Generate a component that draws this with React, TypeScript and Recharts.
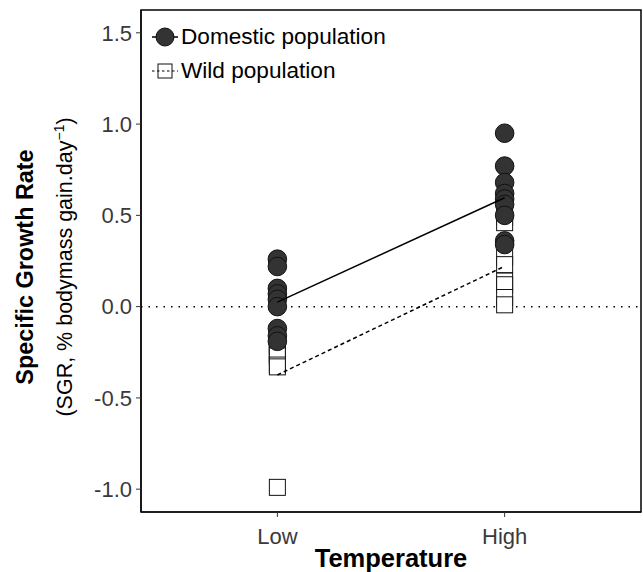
import React from "react";
import {
    ScatterChart,
    Scatter,
    XAxis,
    YAxis,
    ReferenceLine,
    ReferenceArea,
} from "recharts";

// temperature groups on the x axis
const temperatureTicks = [1, 2];
const temperatureLabels = ["Low", "High"];

// SGR per individual
const domesticLow = [0.26, 0.22, 0.10, 0.07, 0.04, 0.0, -0.12, -0.16, -0.19];
const domesticHigh = [0.95, 0.77, 0.68, 0.62, 0.59, 0.56, 0.50, 0.36, 0.34];
const wildLow = [-0.21, -0.24, -0.26, -0.27, -0.32, -0.33, -0.99];
const wildHigh = [0.49, 0.46, 0.27, 0.23, 0.14, 0.12, 0.05, 0.01];

const yTicks = [-1.0, -0.5, 0.0, 0.5, 1.0, 1.5];

const FONT = "'Liberation Sans', Arial, Helvetica, sans-serif";
const TICK_COLOR = "#3a3a3a";

const mean = (arr: number[]) => arr.reduce((a, b) => a + b, 0) / arr.length;

const toPoints = (low: number[], high: number[]) => [
    ...low.map((y) => ({ x: temperatureTicks[0], y })),
    ...high.map((y) => ({ x: temperatureTicks[1], y })),
];

const domesticPoints = toPoints(domesticLow, domesticHigh);
const wildPoints = toPoints(wildLow, wildHigh);
const domesticMeans = [
    { x: temperatureTicks[0], y: mean(domesticLow) },
    { x: temperatureTicks[1], y: mean(domesticHigh) },
];
const wildMeans = [
    { x: temperatureTicks[0], y: mean(wildLow) },
    { x: temperatureTicks[1], y: mean(wildHigh) },
];

const CircleDot = (props: any) => (
    <circle cx={props.cx} cy={props.cy} r={9.3} fill="#333333" stroke="#111" strokeWidth={1} />
);

const SquareDot = (props: any) => (
    <rect x={props.cx - 8} y={props.cy - 8} width={16} height={16} fill="#ffffff" stroke="#111" strokeWidth={1} />
);

const NoDot = () => <g />;

const YTitle = (props: any) => {
    const { viewBox } = props;
    const cy = viewBox.y + viewBox.height / 2 + 6;
    const x1 = viewBox.x + 33;
    const x2 = viewBox.x + 72;
    return (
        <g fontFamily={FONT}>
            <text x={x1} y={cy} transform={`rotate(-90 ${x1} ${cy})`} textAnchor="middle" fontSize={23.4} fontWeight="bold" fill="#000">
                Specific Growth Rate
            </text>
            <text x={x2} y={cy} transform={`rotate(-90 ${x2} ${cy})`} textAnchor="middle" fontSize={21.5} fill="#000">
                (SGR, % bodymass gain.day<tspan dy={-8} fontSize={14}>−1</tspan><tspan dy={8}>)</tspan>
            </text>
        </g>
    );
};

const XTitle = (props: any) => {
    const { viewBox } = props;
    return (
        <text x={viewBox.x + viewBox.width / 2} y={viewBox.y + 55} textAnchor="middle" fontFamily={FONT} fontSize={25.5} fontWeight="bold" fill="#000">
            Temperature
        </text>
    );
};

const LegendBox = () => (
    <div style={{ position: "absolute", left: 152, top: 20, fontFamily: FONT, fontSize: 22.6, color: "#000", lineHeight: "34px" }}>
        <div style={{ display: "flex", alignItems: "center", height: 34 }}>
            <svg width={26} height={24}>
                <line x1={0} y1={12} x2={26} y2={12} stroke="#000" strokeWidth={1.5} />
                <circle cx={13} cy={12} r={9} fill="#333333" stroke="#111" />
            </svg>
            <span style={{ marginLeft: 3 }}>Domestic population</span>
        </div>
        <div style={{ display: "flex", alignItems: "center", height: 34 }}>
            <svg width={26} height={24}>
                <line x1={0} y1={12} x2={26} y2={12} stroke="#000" strokeWidth={1.2} strokeDasharray="2.5 2.5" />
                <rect x={6} y={5} width={14} height={14} fill="none" stroke="#111" />
            </svg>
            <span style={{ marginLeft: 3 }}>Wild population</span>
        </div>
    </div>
);

export default function App() {
    return (
        <div style={{ position: "relative", width: 643, height: 572 }}>
            <style>{`body{margin:0;background:#fff}`}</style>
            <ScatterChart width={643} height={572} margin={{ top: 10, right: 2, bottom: 0, left: 0 }}>
                <XAxis
                    type="number"
                    dataKey="x"
                    domain={[0.4, 2.6]}
                    ticks={temperatureTicks}
                    tickFormatter={(v) => temperatureLabels[temperatureTicks.indexOf(v)]}
                    height={60}
                    tickSize={5}
                    tickMargin={11}
                    tick={{ fill: TICK_COLOR, fontSize: 22, fontFamily: FONT }}
                    axisLine={{ stroke: "#000", strokeWidth: 1.2 }}
                    tickLine={{ stroke: "#333" }}
                    label={{ content: <XTitle /> }}
                    allowDataOverflow
                />
                <YAxis
                    type="number"
                    dataKey="y"
                    domain={[-1.125, 1.625]}
                    ticks={yTicks}
                    tickFormatter={(v) => v.toFixed(1)}
                    width={141}
                    tickSize={5}
                    tickMargin={4}
                    tick={{ fill: TICK_COLOR, fontSize: 22, fontFamily: FONT }}
                    axisLine={{ stroke: "#000", strokeWidth: 1.2 }}
                    tickLine={{ stroke: "#333" }}
                    label={{ content: <YTitle /> }}
                    allowDataOverflow
                />
                <ReferenceArea x1={0.4} x2={2.6} y1={-1.125} y2={1.625} fill="none" stroke="#000" strokeWidth={1.5} ifOverflow="visible" />
                <ReferenceLine y={0} stroke="#000" strokeWidth={1.5} strokeDasharray="1.5 6" />
                <Scatter name="Wild population" data={wildPoints} shape={SquareDot} isAnimationActive={false} />
                <Scatter name="Domestic population" data={domesticPoints} shape={CircleDot} isAnimationActive={false} />
                <Scatter data={wildMeans} shape={NoDot} line={{ stroke: "#000", strokeWidth: 1.5, strokeDasharray: "4 3" }} isAnimationActive={false} legendType="none" />
                <Scatter data={domesticMeans} shape={NoDot} line={{ stroke: "#000", strokeWidth: 1.5 }} isAnimationActive={false} legendType="none" />
            </ScatterChart>
            <LegendBox />
        </div>
    );
}
